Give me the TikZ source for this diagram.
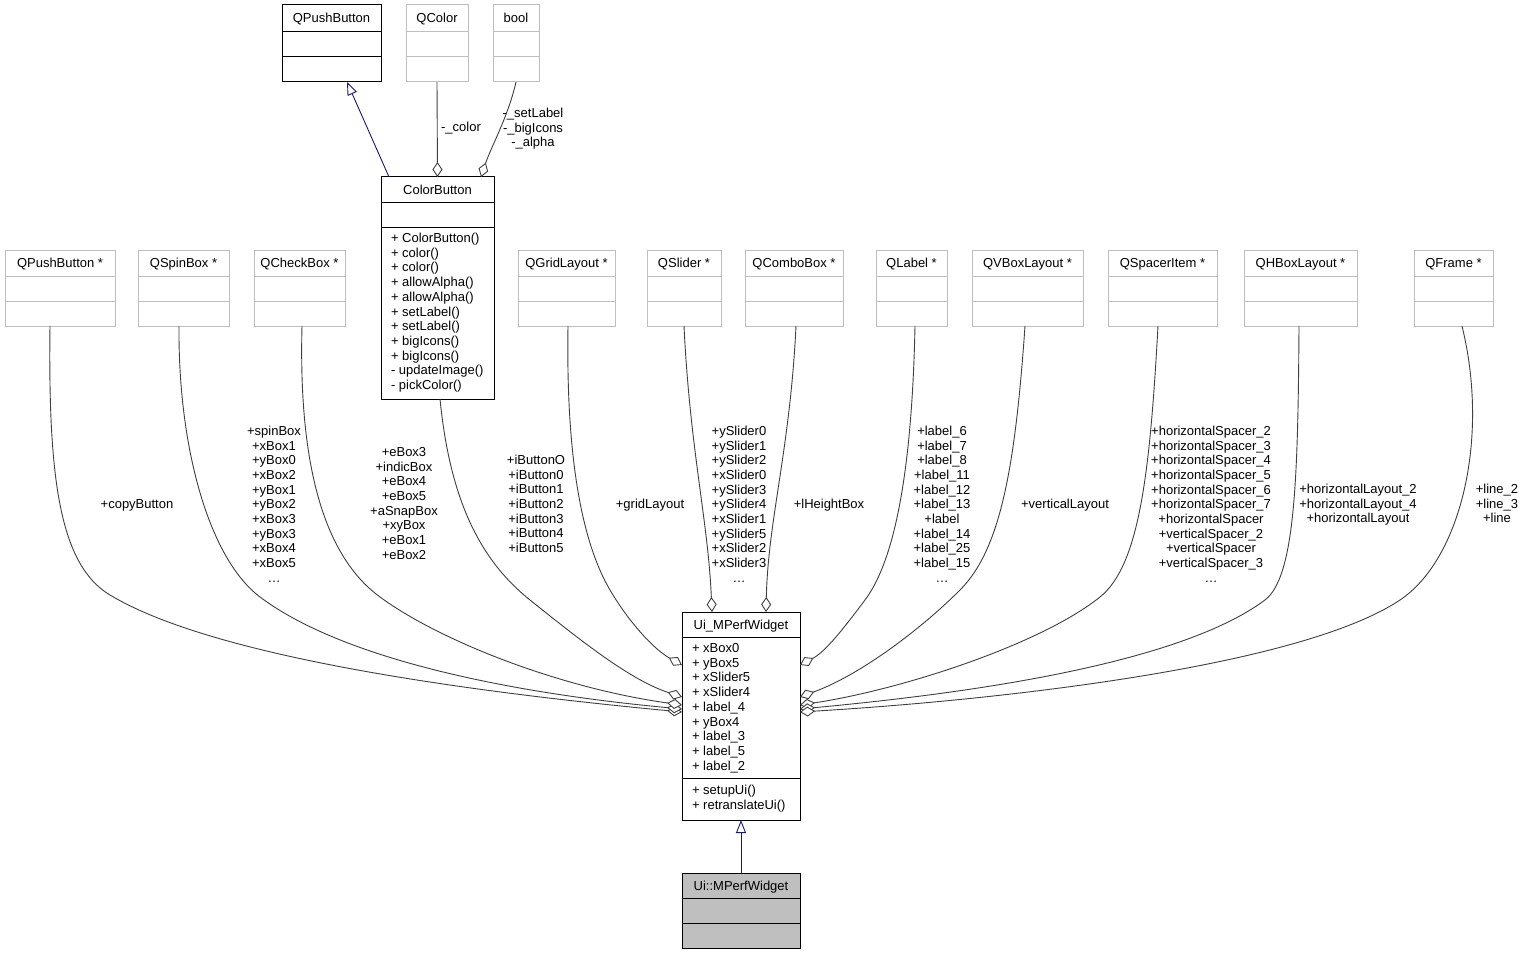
\documentclass[tikz,border=0pt]{standalone}
\usepackage{fontspec}
\setmainfont{Liberation Sans}
\usetikzlibrary{arrows.meta}
\definecolor{boxgray}{HTML}{BFBFBF}
\definecolor{edgegray}{HTML}{404040}
\definecolor{inhblue}{HTML}{191970}
\definecolor{fillgray}{HTML}{BFBFBF}

% #1 name, #2 style, #3 x1, #4 x2, #5 ytop, #6 ydiv1, #7 ydiv2, #8 ybottom, #9 title
\newcommand{\umlbox}[9]{%
  \pgfmathsetmacro\umlW{#4-#3}%
  \pgfmathsetmacro\umlH{#8-#5}%
  \node[box,#2,minimum width=\umlW pt,minimum height=\umlH pt] (#1) at ({(#3+#4)/2},{(#5+#8)/2}) {};
  \draw[#2] (#3,#6) -- (#4,#6) (#3,#7) -- (#4,#7);
  \node[anchor=base] (#1-t) at ({(#3+#4)/2},{(#5+#6)/2+4.5}) {#9};
}
% #1 name prefix, #2 x, #3 first centre y, #4 list
\newcommand{\memberlist}[4]{%
  \foreach \lbl [count=\i from 0] in {#4}
    \node[anchor=base west] (#1\i) at (#2,{#3+4.5+14.7*\i}) {\lbl};
}
\newcommand{\stacklabel}[4]{%
  \foreach \lbl [count=\i from 0] in {#4}
    \node[anchor=base] (#1\i) at (#2,{#3+4.5+14.65*\i}) {\lbl};
}
\newcommand{\more}{\dots}

\begin{document}
\begin{tikzpicture}[x=1pt,y=-1pt,
  every node/.style={font=\fontsize{13}{14.65}\selectfont, inner sep=0pt, outer sep=0pt},
  box/.style={draw, line width=1pt, inner sep=0pt, outer sep=0pt},
  gbox/.style={draw=boxgray, line width=1pt},
  kbox/.style={draw=black, line width=1pt},
  shadedbox/.style={draw=black, fill=fillgray, line width=1pt},
  agg/.style={draw=edgegray, line width=0.9pt, -{Diamond[fill=white,length=15pt,width=10pt]}},
  inh/.style={draw=inhblue, line width=0.9pt, -{Triangle[fill=white,length=13pt,width=10pt]}},
]
\fill[white] (0,0) rectangle (1524,955);
\useasboundingbox (0,0) rectangle (1524,955);

% top row
\umlbox{qpbtop}{kbox}{282}{381}{5}{31.5}{57}{82}{QPushButton}
\umlbox{qcol}{gbox}{406}{468}{5}{31.5}{57}{82}{QColor}
\umlbox{qbool}{gbox}{493}{539}{5}{31.5}{57}{82}{bool}

% ColorButton
\umlbox{cb}{kbox}{381}{494}{177}{202}{227}{399}{ColorButton}
\memberlist{cbm}{391}{238}{+ ColorButton(), + color(), + color(), + allowAlpha(), + allowAlpha(), + setLabel(), + setLabel(), + bigIcons(), + bigIcons(), - updateImage(), - pickColor()}

% middle row
\umlbox{qpb}{gbox}{5}{115}{250}{276}{301}{326}{QPushButton *}
\umlbox{qsb}{gbox}{138}{229}{250}{276}{301}{326}{QSpinBox *}
\umlbox{qchk}{gbox}{254}{345}{250}{276}{301}{326}{QCheckBox *}
\umlbox{qgl}{gbox}{518}{615}{250}{276}{301}{326}{QGridLayout *}
\umlbox{qsl}{gbox}{647}{721}{250}{276}{301}{326}{QSlider *}
\umlbox{qcmb}{gbox}{745}{843}{250}{276}{301}{326}{QComboBox *}
\umlbox{qlab}{gbox}{876}{947}{250}{276}{301}{326}{QLabel *}
\umlbox{qvbl}{gbox}{972}{1083}{250}{276}{301}{326}{QVBoxLayout *}
\umlbox{qspi}{gbox}{1108}{1217}{250}{276}{301}{326}{QSpacerItem *}
\umlbox{qhbl}{gbox}{1244}{1357}{250}{276}{301}{326}{QHBoxLayout *}
\umlbox{qfr}{gbox}{1414}{1493}{250}{276}{301}{326}{QFrame *}

% Ui_MPerfWidget
\umlbox{ui}{kbox}{682}{800}{612}{637}{778}{820}{Ui\_MPerfWidget}
\memberlist{uim}{692}{648}{+ xBox0, + yBox5, + xSlider5, + xSlider4, + label\_4, + yBox4, + label\_3, + label\_5, + label\_2}
\memberlist{uif}{692}{790}{+ setupUi(), + retranslateUi()}

% Ui::MPerfWidget
\umlbox{uimw}{shadedbox}{682}{800}{873}{898}{923}{948}{Ui::MPerfWidget}

% inheritance
\draw[inh] ([xshift=-48.5pt]cb.north) -- ([xshift=15.5pt]qpbtop.south);
\draw[inh] (uimw.north) -- (ui.south);

% aggregation to ColorButton
\draw[agg] (qcol.south) -- (cb.north);
\draw[agg] (qbool.south) .. controls +(-8,35) and +(10,-30) .. ([xshift=43.5pt]cb.north);
\node (lcol) at (461,128) {-\_color};
\stacklabel{lbool}{533}{113}{-\_setLabel, -\_bigIcons, -\_alpha}

% aggregation to Ui_MPerfWidget, left side
\draw[agg] ([xshift=-10pt]qpb.south) .. controls (48,480) and (60,565) .. (110,595) .. controls (210,655) and (450,690) .. ([yshift=-100pt]ui.north west);
\draw[agg] ([xshift=-4.5pt]qsb.south) .. controls (178,450) and (210,559.5) .. (260,597) .. controls (340,657) and (500,692) .. ([yshift=-97pt]ui.north west);
\draw[agg] ([xshift=2.5pt]qchk.south) .. controls (298,480) and (330,560.5) .. (380,597) .. controls (440,641) and (560,688) .. ([yshift=-93pt]ui.north west);
\draw[agg] ([xshift=2.5pt]cb.south) .. controls (450,500) and (480,560) .. (530,600) .. controls (580,640) and (630,680) .. ([yshift=-85pt]ui.north west);
\draw[agg] ([xshift=1.5pt]qgl.south) .. controls (566,450) and (580,539) .. (610,590) .. controls (630,624) and (655,650) .. ([yshift=-53pt]ui.north west);

% top of Ui_MPerfWidget
\draw[agg] (qsl.south) .. controls (690,450) and (708,520) .. ([xshift=30pt]ui.north west);
\draw[agg] ([xshift=2pt]qcmb.south) .. controls (790,450) and (768,520) .. ([xshift=84pt]ui.north west);

% right side
\draw[agg] ([xshift=3.5pt]qlab.south) .. controls (912,470) and (895,560) .. (865,600) .. controls (842.5,630) and (825,652) .. ([yshift=-53pt]ui.north east);
\draw[agg] ([xshift=-2.5pt]qvbl.south) .. controls (1015,470) and (1000,550) .. (960,590) .. controls (920,630) and (860,675) .. ([yshift=-85pt]ui.north east);
\draw[agg] ([xshift=-4.5pt]qspi.south) .. controls (1150,470) and (1140,565) .. (1100,597) .. controls (1040,645) and (900,690) .. ([yshift=-93pt]ui.north east);
\draw[agg] ([xshift=-1.5pt]qhbl.south) .. controls (1298,480) and (1295,577) .. (1265,600) .. controls (1175,667) and (950,695) .. ([yshift=-97pt]ui.north east);
\draw[agg] ([xshift=8.5pt]qfr.south) .. controls (1490,440) and (1460,560) .. (1400,600) .. controls (1300,666.7) and (1000,700) .. ([yshift=-100pt]ui.north east);

% edge labels
\node[anchor=base] (lcopy) at (137,508.5) {+copyButton};
\stacklabel{lspin}{274}{431}{+spinBox, +xBox1, +yBox0, +xBox2, +yBox1, +yBox2, +xBox3, +yBox3, +xBox4, +xBox5, \more}
\stacklabel{lebox}{404}{452}{+eBox3, +indicBox, +eBox4, +eBox5, +aSnapBox, +xyBox, +eBox1, +eBox2}
\stacklabel{libtn}{536}{460}{+iButtonO, +iButton0, +iButton1, +iButton2, +iButton3, +iButton4, +iButton5}
\node[anchor=base] (lgrid) at (650,508.5) {+gridLayout};
\stacklabel{lsld}{739}{431}{+ySlider0, +ySlider1, +ySlider2, +xSlider0, +ySlider3, +ySlider4, +xSlider1, +ySlider5, +xSlider2, +xSlider3, \more}
\node[anchor=base] (lhgt) at (829,508.5) {+lHeightBox};
\stacklabel{llab}{942}{431}{+label\_6, +label\_7, +label\_8, +label\_11, +label\_12, +label\_13, +label, +label\_14, +label\_25, +label\_15, \more}
\node[anchor=base] (lvert) at (1065,508.5) {+verticalLayout};
\stacklabel{lspc}{1211}{431}{+horizontalSpacer\_2, +horizontalSpacer\_3, +horizontalSpacer\_4, +horizontalSpacer\_5, +horizontalSpacer\_6, +horizontalSpacer\_7, +horizontalSpacer, +verticalSpacer\_2, +verticalSpacer, +verticalSpacer\_3, \more}
\stacklabel{lhl}{1358}{489}{+horizontalLayout\_2, +horizontalLayout\_4, +horizontalLayout}
\stacklabel{lline}{1497}{489}{+line\_2, +line\_3, +line}
\end{tikzpicture}
\end{document}
